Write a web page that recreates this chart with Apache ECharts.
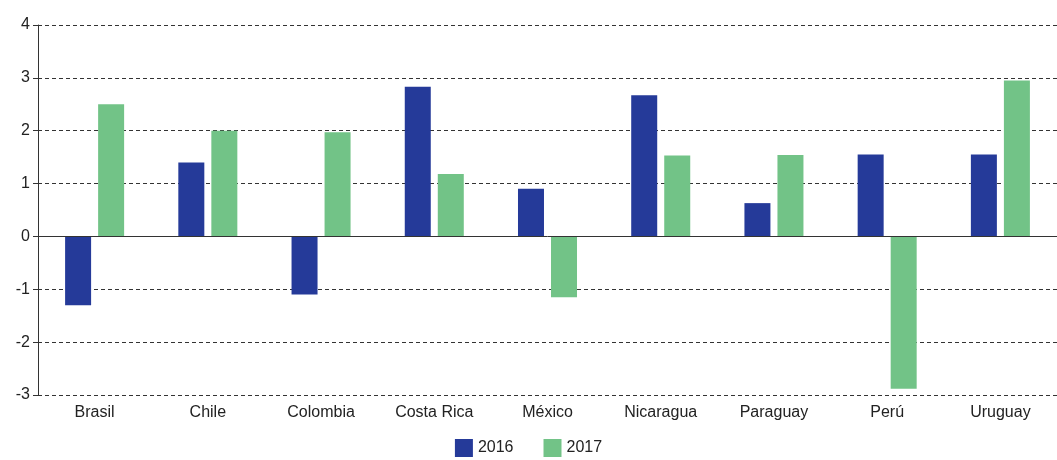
<!DOCTYPE html>
<html><head><meta charset="utf-8">
<script src="https://cdn.jsdelivr.net/npm/echarts@6/dist/echarts.min.js"></script>
<style>html,body{margin:0;background:#fff}#c{width:1057px;height:460px}</style>
</head><body><div id="c"></div>
<script>
const categories = ['Brasil', 'Chile', 'Colombia', 'Costa Rica', 'México', 'Nicaragua', 'Paraguay', 'Perú', 'Uruguay'];
const values2016 = [-1.3, 1.4, -1.1, 2.83, 0.9, 2.67, 0.63, 1.55, 1.55];
const values2017 = [2.5, 2.0, 1.97, 1.18, -1.15, 1.53, 1.54, -2.88, 2.95];
const yTicks = [-3, -2, -1, 0, 1, 2, 3, 4];

const chart = echarts.init(document.getElementById('c'));
const font = 'Arial, "Liberation Sans", sans-serif';
chart.setOption({
  animation: false,
  textStyle: { fontFamily: font },
  legend: {
    bottom: -2, left: 'center', itemWidth: 18, itemHeight: 18, itemGap: 30, icon: 'rect',
    textStyle: { fontSize: 16, color: '#222', fontFamily: font },
    data: ['2016', '2017']
  },
  grid: { left: 38, right: 0, top: 25, bottom: 65 },
  xAxis: {
    type: 'category', data: categories, axisLine: { show: false }, axisTick: { show: false },
    axisLabel: { fontSize: 16, color: '#222', margin: 10 }
  },
  yAxis: {
    type: 'value', min: yTicks[0], max: yTicks[yTicks.length - 1], interval: 1,
    axisLine: { show: true, lineStyle: { color: '#333' } },
    axisTick: { show: true, length: 5, lineStyle: { color: '#333' } },
    axisLabel: { fontSize: 16, color: '#222', margin: 8 },
    splitLine: { lineStyle: { type: [4, 3], color: '#333' } }
  },
  series: [
    { name: '2016', type: 'bar', data: values2016, barWidth: 26, barGap: '27%', itemStyle: { color: '#253A99' },
      markLine: { silent: true, symbol: 'none', label: { show: false },
        lineStyle: { type: 'solid', color: '#333', width: 1 }, data: [{ yAxis: 0 }] } },
    { name: '2017', type: 'bar', data: values2017, barWidth: 26, itemStyle: { color: '#72C387' } }
  ]
});
</script></body></html>
